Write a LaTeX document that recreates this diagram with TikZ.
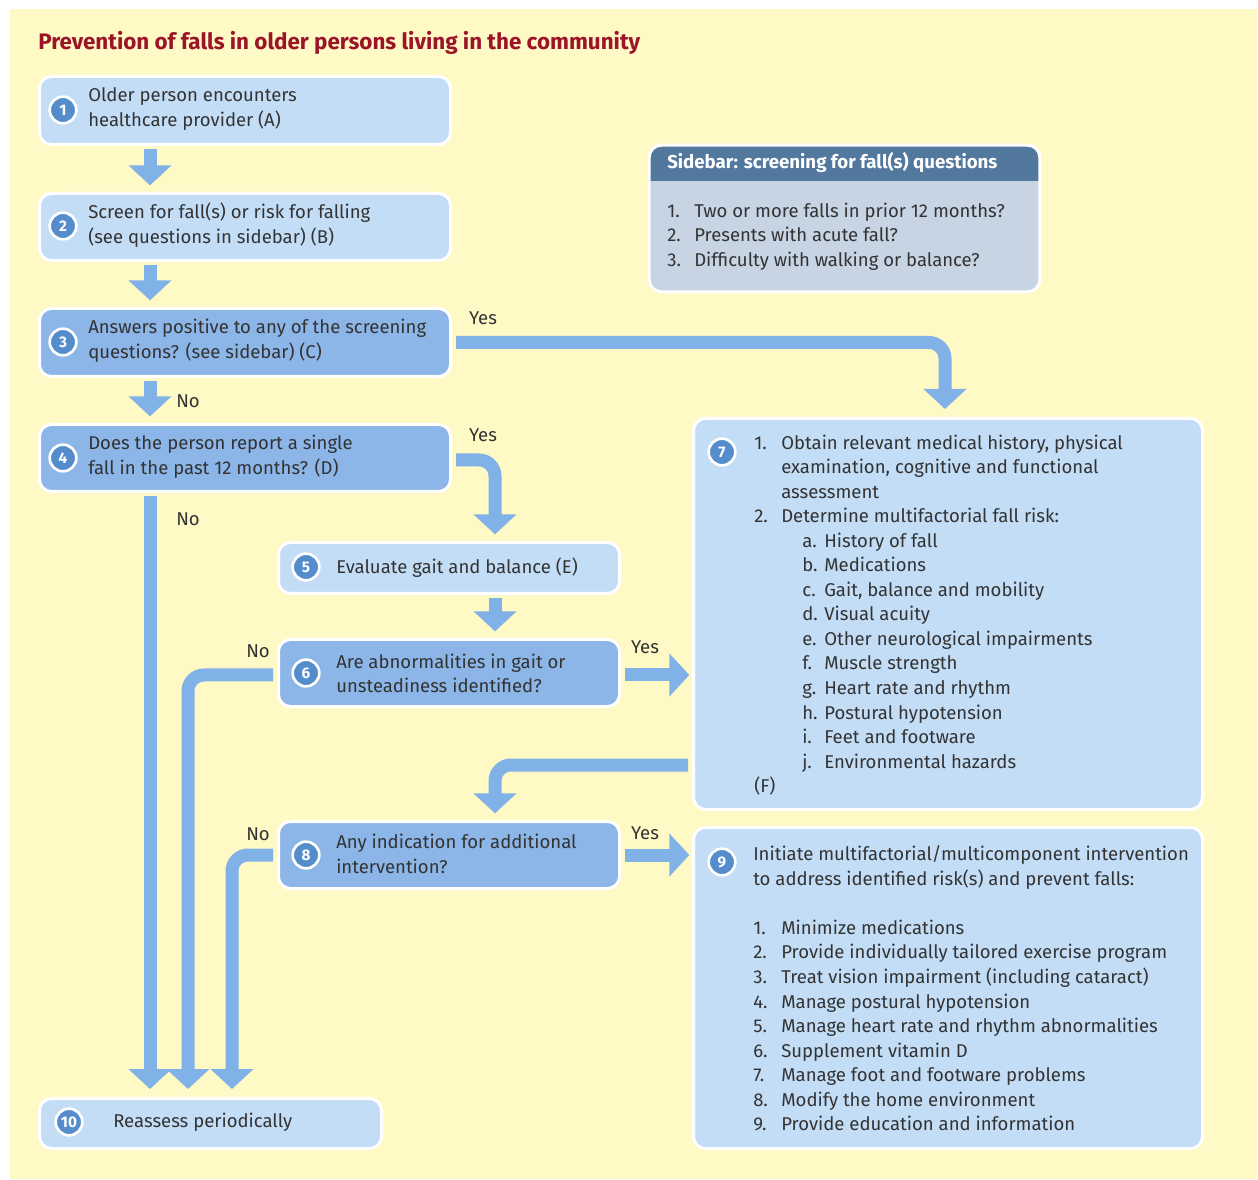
\documentclass[tikz,border=0pt]{standalone}
\usepackage{fontspec}
\setmainfont{Fira Sans}
\usetikzlibrary{arrows.meta,calc}
\definecolor{bgyellow}{RGB}{255,249,198}
\definecolor{boxlight}{RGB}{196,221,247}
\definecolor{boxdark}{RGB}{140,181,232}
\definecolor{arrowblue}{RGB}{128,178,232}
\definecolor{circblue}{RGB}{84,140,204}
\definecolor{sbhead}{RGB}{82,120,158}
\definecolor{sbbody}{RGB}{198,212,228}
\definecolor{titlered}{RGB}{155,20,40}
\definecolor{txt}{RGB}{51,51,51}
\newcommand{\li}[3][20.25pt]{\makebox[#1][l]{#2}#3}
\newcommand{\lj}[2]{\hspace*{36pt}\makebox[16.5pt][l]{#1}#2}
\begin{document}
\begin{tikzpicture}[x=0.75pt,y=-0.75pt,
  box/.style={rectangle, rounded corners=9pt, draw=white, line width=2.25pt, inner sep=0pt},
  light/.style={box, fill=boxlight},
  dark/.style={box, fill=boxdark},
  num/.style={circle, fill=circblue, draw=white, line width=2pt, minimum size=20pt, inner sep=0pt, text=white, font=\fontsize{11.5}{11.5}\selectfont\bfseries},
  txtnode/.style={anchor=west, inner sep=0pt, align=left, text=txt, font=\fontsize{13.9}{18.4}\selectfont},
  arr/.style={draw=arrowblue, line width=9.75pt, -{Triangle[width=31.5pt,length=15pt]}, shorten >=5pt, shorten <=2pt, rounded corners=12pt},
  harr/.style={arr, shorten >=2pt, shorten <=3pt},
  lbl/.style={text=txt, font=\fontsize{13.9}{15}\selectfont, inner sep=0pt}
]
\useasboundingbox (0,0) rectangle (1258,1180);
\fill[white] (0,0) rectangle (1258,1180);
\fill[bgyellow] (10,9) rectangle (1257,1179);

% title
\node[anchor=west, inner sep=0pt, text=titlered, font=\fontsize{16.8}{20}\selectfont\bfseries] (title) at (38,43) {Prevention of falls in older persons living in the community};

% boxes
\node[light, minimum width=308.25pt, minimum height=51pt] (n1) at (245,110.5) {};
\node[light, minimum width=308.25pt, minimum height=50.25pt] (n2) at (245,227) {};
\node[dark, minimum width=308.25pt, minimum height=51pt] (n3) at (245,342.5) {};
\node[dark, minimum width=308.25pt, minimum height=50.25pt] (n4) at (245,458) {};
\node[light, minimum width=255.75pt, minimum height=38.25pt] (n5) at (449,568) {};
\node[dark, minimum width=255.75pt, minimum height=50.25pt] (n6) at (449,673) {};
\node[light, minimum width=381.75pt, minimum height=293.25pt] (n7) at (948,614) {};
\node[dark, minimum width=255.75pt, minimum height=50.25pt] (n8) at (449,855) {};
\node[light, minimum width=381.75pt, minimum height=240.75pt] (n9) at (948,988) {};
\node[light, minimum width=256.5pt, minimum height=37.5pt] (n10) at (210.5,1123.5) {};

% sidebar
\node[rectangle, rounded corners=9pt, fill=sbbody, inner sep=0pt, minimum width=292.5pt, minimum height=109.5pt] (sb) at (844.5,218.5) {};
\begin{scope}
\clip[rounded corners=9pt] (sb.north west) rectangle (sb.south east);
\fill[sbhead] (sb.north west) rectangle ($(sb.north east)+(0,36)$);
\end{scope}
\draw[white, line width=2.25pt, rounded corners=9pt] (sb.north west) rectangle (sb.south east);
\node[anchor=west, inner sep=0pt, text=white, font=\fontsize{14}{15}\selectfont\bfseries] (sbh) at (667,163) {Sidebar: screening for fall(s) questions};
\node[txtnode] (sbt) at (667,236.5) {\li{1.}{Two or more falls in prior 12 months?}\\
\li{2.}{Presents with acute fall?}\\
\li{3.}{Difficulty with walking or balance?}};

% number circles
\node[num] (c1) at (63,110) {1};
\node[num] (c2) at (63,226) {2};
\node[num] (c3) at (63,342) {3};
\node[num] (c4) at (63,458) {4};
\node[num] (c5) at (306,567) {5};
\node[num] (c6) at (306,673) {6};
\node[num] (c7) at (722,452) {7};
\node[num] (c8) at (306,855) {8};
\node[num] (c9) at (722,862) {9};
\node[num] (c10) at (69,1122) {10};

% texts
\node[txtnode] (t1) at (88,109) {Older person encounters\\healthcare provider (A)};
\node[txtnode] (t2) at (88,225) {Screen for fall(s) or risk for falling\\(see questions in sidebar) (B)};
\node[txtnode] (t3) at (88,341) {Answers positive to any of the screening\\questions? (see sidebar) (C)};
\node[txtnode] (t4) at (88,457) {Does the person report a single\\fall in the past 12 months? (D)};
\node[txtnode] (t5) at (336,568) {Evaluate gait and balance (E)};
\node[txtnode] (t6) at (336,673.5) {Are abnormalities in gait or\\unsteadiness identified?};
\node[txtnode] (t8) at (336,854) {Any indication for additional\\intervention?};
\node[txtnode] (t10) at (113,1122) {Reassess periodically};
\node[txtnode] (t7) at (754,615) {\li{1.}{Obtain relevant medical history, physical}\\
\li{}{examination, cognitive and functional}\\
\li{}{assessment}\\
\li{2.}{Determine multifactorial fall risk:}\\
\lj{a.}{History of fall}\\
\lj{b.}{Medications}\\
\lj{c.}{Gait, balance and mobility}\\
\lj{d.}{Visual acuity}\\
\lj{e.}{Other neurological impairments}\\
\lj{f.}{Muscle strength}\\
\lj{g.}{Heart rate and rhythm}\\
\lj{h.}{Postural hypotension}\\
\lj{i.}{Feet and footware}\\
\lj{j.}{Environmental hazards}\\
(F)};
\node[txtnode] (t9) at (753,988.5) {Initiate multifactorial/multicomponent intervention\\
to address identified risk(s) and prevent falls:\\[18.4pt]
\li[21pt]{1.}{Minimize medications}\\
\li[21pt]{2.}{Provide individually tailored exercise program}\\
\li[21pt]{3.}{Treat vision impairment (including cataract)}\\
\li[21pt]{4.}{Manage postural hypotension}\\
\li[21pt]{5.}{Manage heart rate and rhythm abnormalities}\\
\li[21pt]{6.}{Supplement vitamin D}\\
\li[21pt]{7.}{Manage foot and footware problems}\\
\li[21pt]{8.}{Modify the home environment}\\
\li[21pt]{9.}{Provide education and information}};

% connectors
\draw[arr] ([xshift=-71.25pt]n1.south) -- ([xshift=-71.25pt]n2.north);
\draw[arr] ([xshift=-71.25pt]n2.south) -- ([xshift=-71.25pt]n3.north);
\draw[arr] ([xshift=-71.25pt]n3.south) -- ([xshift=-71.25pt]n4.north);
\draw[arr, shorten <=3pt, shorten >=6pt] (n3.east) -| ([xshift=-2.25pt]n7.north);
\draw[arr, shorten <=3pt] ([yshift=-1.5pt]n4.east) -| ([xshift=34.5pt]n5.north);
\draw[arr, shorten >=6pt] ([xshift=-71.25pt]n4.south) -- ([xshift=-45.375pt]n10.north);
\draw[arr] ([xshift=34.5pt]n5.south) -- ([xshift=34.5pt]n6.north);
\draw[harr] ([yshift=-1.5pt]n6.east) -- ([yshift=-1.5pt]n6.east -| n7.west);
\draw[arr, shorten <=3pt, shorten >=6pt] ([yshift=-1.5pt]n6.west) -| ([xshift=-16.875pt]n10.north);
\draw[arr, shorten <=3pt] ([yshift=-113.25pt]n7.west) -| ([xshift=34.5pt]n8.north);
\draw[harr] (n8.east) -- (n8.east -| n9.west);
\draw[arr, shorten <=3pt, shorten >=6pt] (n8.west) -| ([xshift=16.125pt]n10.north);

% labels
\node[lbl] (yes3) at (483,318) {Yes};
\node[lbl] (yes4) at (483,435) {Yes};
\node[lbl] (yes6) at (645,647) {Yes};
\node[lbl] (yes8) at (645,833) {Yes};
\node[lbl] (no3) at (188,401) {No};
\node[lbl] (no4) at (188,519) {No};
\node[lbl] (no6) at (258,651) {No};
\node[lbl] (no8) at (258,834) {No};
\end{tikzpicture}
\end{document}
